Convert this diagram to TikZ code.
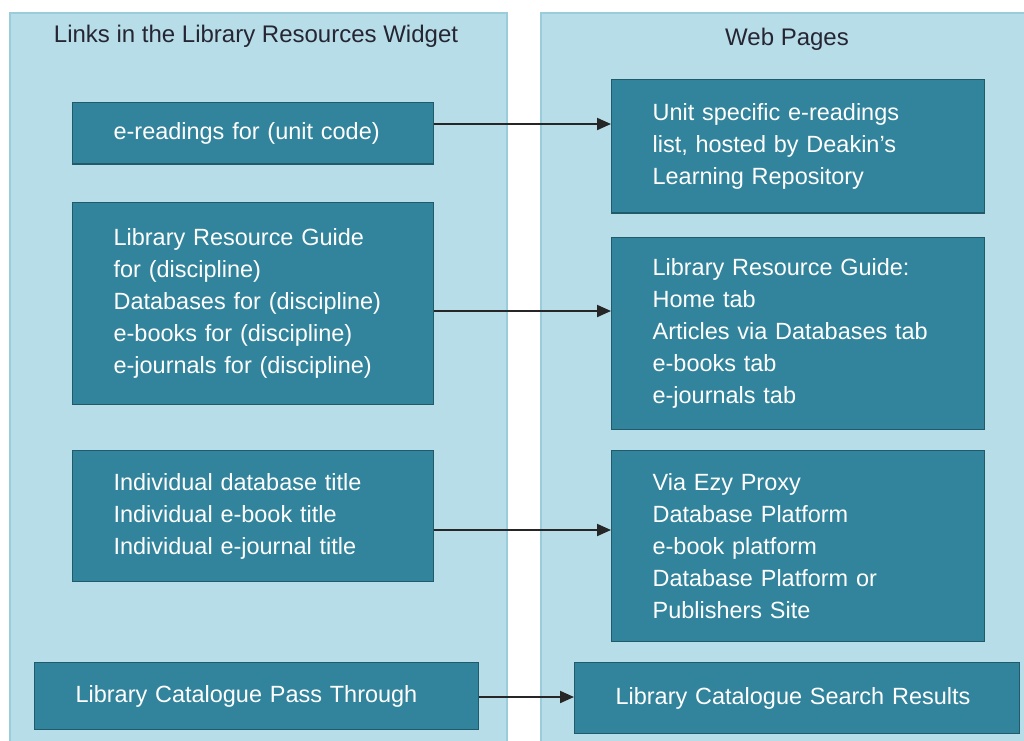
\documentclass[tikz,border=0pt]{standalone}
\usepackage{fontspec}
\setmainfont{Liberation Sans}
\usetikzlibrary{arrows.meta}
\definecolor{panelfill}{HTML}{B7DDE8}
\definecolor{paneledge}{HTML}{9ACCDA}
\definecolor{boxfill}{HTML}{31849B}
\definecolor{boxedge}{HTML}{215A69}
\definecolor{titletext}{HTML}{262633}
\begin{document}
\begin{tikzpicture}[x=0.75pt,y=-0.75pt,
  panel/.style={fill=panelfill,draw=paneledge,line width=0.9pt},
  heading/.style={text=titletext,font=\fontsize{18}{24}\selectfont,inner sep=0pt},
  item/.style={rectangle,fill=boxfill,draw=boxedge,line width=0.9pt,
    text=white,font=\fontsize{17.6}{24}\selectfont,align=left,
    anchor=north west,inner xsep=30.75pt,inner ysep=0pt},
  link/.style={draw=black!85,line width=1.5pt,-{Triangle[length=10.5pt,width=9pt]}}]
\useasboundingbox (0,0) rectangle (1024,740);
% two column panels
\path[panel] (10,13) rectangle (507,745);
\path[panel] (541,13) rectangle (1030,745);
\node[heading] (htl) at (256,36) {Links in the Library Resources Widget};
\node[heading] (htr) at (787,39) {Web Pages};
% widget links (left column)
\node[item,text width=209pt,minimum height=46pt] (l1) at (72,102)
  {e-readings for (unit code)};
\node[item,text width=209pt,minimum height=151.5pt] (l2) at (72,202)
  {Library Resource Guide\\for (discipline)\\Databases for (discipline)\\e-books for (discipline)\\e-journals for (discipline)};
\node[item,text width=209pt,minimum height=98pt] (l3) at (72,450)
  {Individual database title\\Individual e-book title\\Individual e-journal title};
\node[item,text width=271.5pt,minimum height=50pt] (l4) at (34,662)
  {Library Catalogue Pass Through};
% target pages (right column)
\node[item,text width=218.25pt,minimum height=100pt] (r1) at (611,79)
  {Unit specific e-readings\\list, hosted by Deakin's\\Learning Repository};
\node[item,text width=218.25pt,minimum height=144pt] (r2) at (611,237)
  {Library Resource Guide:\\Home tab\\Articles via Databases tab\\e-books tab\\e-journals tab};
\node[item,text width=218.25pt,minimum height=143pt] (r3) at (611,450)
  {Via Ezy Proxy\\Database Platform\\e-book platform\\Database Platform or\\Publishers Site};
\node[item,text width=272.25pt,minimum height=53pt] (r4) at (574,662)
  {Library Catalogue Search Results};
% connectors
\draw[link] (l1.east |- 0,124) -- (r1.west |- 0,124);
\draw[link] (l2.east |- 0,311) -- (r2.west |- 0,311);
\draw[link] (l3.east |- 0,530) -- (r3.west |- 0,530);
\draw[link] (l4.east |- 0,697) -- (r4.west |- 0,697);
\end{tikzpicture}
\end{document}
